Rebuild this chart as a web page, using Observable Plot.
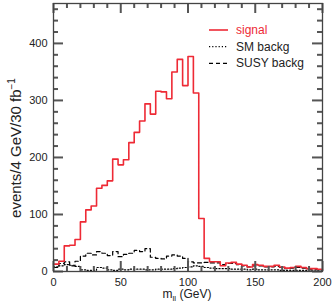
<!DOCTYPE html>
<html><head><meta charset="utf-8">
<script src="https://cdn.jsdelivr.net/npm/d3@7"></script>
<script src="https://cdn.jsdelivr.net/npm/@observablehq/plot@0.6"></script>
<style>
html,body{margin:0;padding:0;background:#fff;}
#chart{width:332px;height:305px;position:relative;}
svg{font-family:"Liberation Sans",Arial,Helvetica,sans-serif;}
</style></head><body><div id="chart"></div>
<script>
// 50 bins of 4 GeV from 0 to 200 GeV
const binWidth = 4;
const signal = [13,18,45,46,56,87,108,115,146,151,159,197,187,196,226,244,264,294,276,316,
  315,303,350,372,326,377,313,93,23,17,17,10,15,16,13,11,8,12,11,9,
  9,11,8,6,7,9,7,5,5,4];
const smBackg = [8,10,12,11,9,3,2,2,7,6,3,2,4,3,4,4,4,3,3,4,
  4,4,5,6,7,8,10,9,7,6,5,5,5,4,4,4,3,4,3,3,
  3,3,2,2,2,2,2,2,1,1];
const susyBackg = [7,14,17,10,18,27,32,29,35,32,28,35,26,30,32,37,35,40,25,23,
  22,27,29,27,23,17,15,15,16,15,15,12,14,14,12,10,8,10,10,8,
  8,9,7,5,6,7,6,4,4,3];
const seriesNames = ["signal", "SM backg", "SUSY backg"];
const xTicks = [0, 50, 100, 150, 200];
const xMinorTicks = [10,20,30,40,60,70,80,90,110,120,130,140,160,170,180,190];
const yTicks = [0, 100, 200, 300, 400];
const yMinorTicks = [20,40,60,80,120,140,160,180,220,240,260,280,320,340,360,380,420,440,460];

const red = "#ee2a35";
const ink = "#222";
const tickColor = "#555";

function steps(values) {
  const pts = values.map((v, i) => ({x: i * binWidth, y: v}));
  pts.push({x: values.length * binWidth, y: values[values.length - 1]});
  return pts;
}

const W = 332, H = 305, mL = 53, mR = 10, mT = 3, mB = 34;
const minorLen = 5, majorLen = 10;

const plot = Plot.plot({
  width: W, height: H,
  marginLeft: mL, marginRight: mR, marginTop: mT, marginBottom: mB,
  style: {fontFamily: '"Liberation Sans",Arial,sans-serif', fontSize: "11px", color: ink, background: "#fff"},
  x: {domain: [0, 200]},
  y: {domain: [0, 470]},
  marks: [
    Plot.line(steps(smBackg), {x: "x", y: "y", curve: "step-after", stroke: "#000", strokeWidth: 1.2, strokeDasharray: "1.2,2"}),
    Plot.line(steps(susyBackg), {x: "x", y: "y", curve: "step-after", stroke: "#000", strokeWidth: 1.2, strokeDasharray: "4,3"}),
    Plot.line(steps(signal), {x: "x", y: "y", curve: "step-after", stroke: red, strokeWidth: 1.6}),
    // inward ticks on the four sides (plain Plot tick marks, inset to short stubs)
    Plot.tickX(xMinorTicks, {stroke: tickColor, strokeWidth: 2, insetTop: H - mT - mB - minorLen}),
    Plot.tickX(xTicks, {stroke: tickColor, strokeWidth: 2, insetTop: H - mT - mB - majorLen}),
    Plot.tickX(xMinorTicks, {stroke: tickColor, strokeWidth: 2, insetBottom: H - mT - mB - minorLen}),
    Plot.tickX(xTicks, {stroke: tickColor, strokeWidth: 2, insetBottom: H - mT - mB - majorLen}),
    Plot.tickY(yMinorTicks, {stroke: tickColor, strokeWidth: 2, insetRight: W - mL - mR - minorLen}),
    Plot.tickY(yTicks, {stroke: tickColor, strokeWidth: 2, insetRight: W - mL - mR - majorLen}),
    Plot.tickY(yMinorTicks, {stroke: tickColor, strokeWidth: 2, insetLeft: W - mL - mR - minorLen}),
    Plot.tickY(yTicks, {stroke: tickColor, strokeWidth: 2, insetLeft: W - mL - mR - majorLen}),
    Plot.axisX(xTicks, {anchor: "bottom", tickSize: 0, tickPadding: 7, label: null, fill: ink}),
    Plot.axisY(yTicks, {anchor: "left", tickSize: 0, tickPadding: 6, label: null, fill: ink}),
    Plot.frame({stroke: "#444", strokeWidth: 1.3})
  ]
});
document.getElementById("chart").appendChild(plot);

const svg = d3.select(plot);

// axis titles with sub/superscripts
const xt = svg.append("text").attr("x", 187).attr("y", 298)
  .attr("text-anchor", "middle").attr("font-size", 12).attr("fill", ink);
xt.append("tspan").text("m");
xt.append("tspan").attr("dy", 3).attr("font-size", 8).text("ll");
xt.append("tspan").attr("dy", -3).text(" (GeV)");

const yt = svg.append("text").attr("transform", "translate(20.5,148) rotate(-90)")
  .attr("text-anchor", "middle").attr("font-size", 15).attr("fill", ink);
yt.append("tspan").text("events/4 GeV/30 fb");
yt.append("tspan").attr("dy", -6).attr("font-size", 10).text("\u22121");

// legend (inside the frame, top right)
const legendStyles = [
  {stroke: red, dash: null, color: red, w: 1.6},
  {stroke: "#000", dash: "1.2,2", color: ink, w: 1.2},
  {stroke: "#000", dash: "4,3", color: ink, w: 1.2}
];
const lg = svg.append("g").attr("font-size", 12).attr("text-anchor", "start");
seriesNames.forEach((name, i) => {
  const y = 30 + i * 16.7;
  const s = legendStyles[i];
  lg.append("line").attr("x1", 209).attr("x2", 228).attr("y1", y).attr("y2", y)
    .attr("stroke", s.stroke).attr("stroke-width", s.w)
    .attr("stroke-dasharray", s.dash);
  lg.append("text").attr("x", 236).attr("y", y + 4).attr("fill", s.color).text(name);
});
</script>
</body></html>
